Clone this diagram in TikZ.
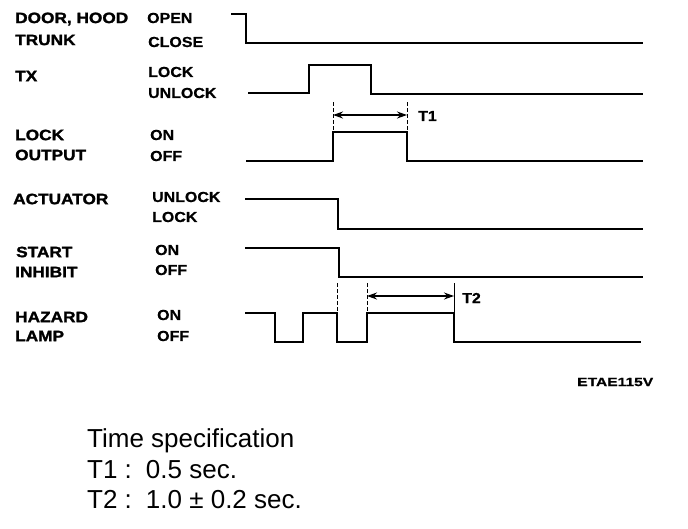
\documentclass[tikz,border=0pt]{standalone}
\usepackage{fontspec}
\setmainfont{Liberation Sans}
\newfontfamily\sigfont[FakeStretch=1.15,FakeBold=1.6]{Liberation Sans}
\newfontfamily\labfont[FakeStretch=1.1,FakeBold=0.6]{Liberation Sans}
\newfontfamily\codefont[FakeStretch=1.3,FakeBold=0.8]{Liberation Sans}
\usetikzlibrary{arrows.meta}
\begin{document}
\begin{tikzpicture}[x=1pt,y=-1pt,
  sig/.style={anchor=west,inner sep=0pt,font=\sigfont\bfseries\fontsize{15}{17}\selectfont},
  st/.style={anchor=west,inner sep=0pt,font=\labfont\bfseries\fontsize{14.5}{16}\selectfont},
  spec/.style={anchor=west,inner sep=0pt,font=\fontsize{26}{30}\selectfont},
  wave/.style={line width=2.4pt,line join=miter},
  ext/.style={line width=0.7pt,dash pattern=on 4pt off 2pt},
  dim/.style={line width=1.3pt,{Stealth[length=10pt,width=7pt]}-{Stealth[length=10pt,width=7pt]}}]
\useasboundingbox (0,0) rectangle (688,528);
% signal names
\node[sig] (n1) at (15,19) {DOOR, HOOD};
\node[sig] (n2) at (15,40) {TRUNK};
\node[sig] (n3) at (15,76) {TX};
\node[sig] (n4) at (15,135) {LOCK};
\node[sig] (n5) at (15,155) {OUTPUT};
\node[sig] (n6) at (13,199) {ACTUATOR};
\node[sig] (n7) at (16,252) {START};
\node[sig] (n8) at (15,272) {INHIBIT};
\node[sig] (n9) at (15,317) {HAZARD};
\node[sig] (n10) at (15,336) {LAMP};
% states
\node[st] (s1) at (147,18) {OPEN};
\node[st] (s2) at (148,42) {CLOSE};
\node[st] (s3) at (148,72) {LOCK};
\node[st] (s4) at (148,93) {UNLOCK};
\node[st] (s5) at (150,135) {ON};
\node[st] (s6) at (150,156) {OFF};
\node[st] (s7) at (152,197) {UNLOCK};
\node[st] (s8) at (152,217) {LOCK};
\node[st] (s9) at (155,250) {ON};
\node[st] (s10) at (155,270) {OFF};
\node[st] (s11) at (157,315) {ON};
\node[st] (s12) at (157,336) {OFF};
% waveforms
\draw[wave] (231,14) -- (246,14) -- (246,43) -- (643,43);
\draw[wave] (248,93) -- (309,93) -- (309,65) -- (371,65) -- (371,94) -- (643,94);
\draw[wave] (246,161) -- (333,161) -- (333,132) -- (407,132) -- (407,161) -- (643,161);
\draw[wave] (245,199) -- (338,199) -- (338,229) -- (643,229);
\draw[wave] (245,248) -- (339,248) -- (339,277) -- (643,277);
\draw[wave] (245,313) -- (275,313) -- (275,342) -- (303,342) -- (303,313) -- (337,313)
  -- (337,342) -- (367,342) -- (367,313) -- (454,313) -- (454,342) -- (641,342);
% T1
\coordinate (t1a) at (333,115);
\coordinate (t1b) at (407,115);
\draw[ext] (333,102) -- (333,132);
\draw[ext] (407,102) -- (407,132);
\draw[dim] (t1a) -- (t1b);
\node[st] (T1) at (418,116) {T1};
% T2
\coordinate (t2a) at (367,296);
\coordinate (t2b) at (454,296);
\draw[ext] (337,283) -- (337,313);
\draw[ext] (367,283) -- (367,313);
\draw[line width=0.8pt] (454,283) -- (454,313);
\draw[dim] (t2a) -- (t2b);
\node[st] (T2) at (462,298) {T2};
% code
\node[anchor=west,inner sep=0pt,font=\codefont\bfseries\fontsize{12}{13}\selectfont] (code) at (577,382) {ETAE115V};
% specification
\node[spec] (sp1) at (87,441) {Time specification};
\node[spec] (sp2) at (87,470) {T1 :\, 0.5 sec.};
\node[spec] (sp3) at (87,500) {T2 :\, 1.0 ± 0.2 sec.};
\end{tikzpicture}
\end{document}
